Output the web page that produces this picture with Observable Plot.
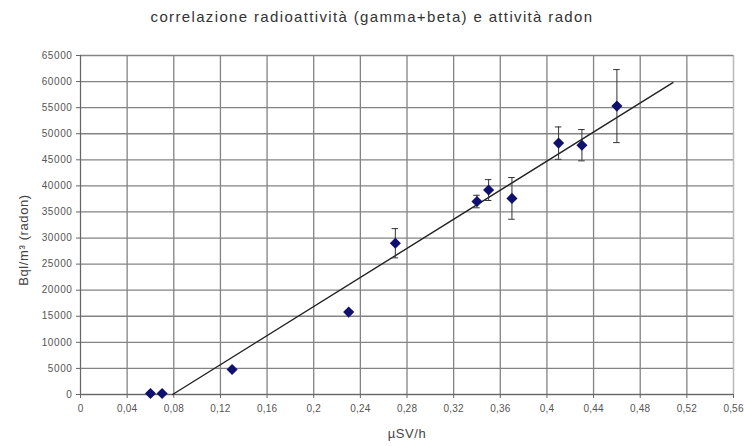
<!DOCTYPE html>
<html>
<head>
<meta charset="utf-8">
<script src="https://cdn.jsdelivr.net/npm/d3@7"></script>
<script src="https://cdn.jsdelivr.net/npm/@observablehq/plot@0.6"></script>
<style>
  html, body { margin: 0; padding: 0; background: #fff; }
  #wrap { width: 744px; font-family: "Liberation Sans", Arial, sans-serif; }
  #title { height: 40px; line-height: 34px; text-align: center; font-size: 15px; letter-spacing: 1.35px; color: #333; }
</style>
</head>
<body>
<div id="wrap">
  <div id="title">correlazione radioattività (gamma+beta) e attività radon</div>
  <div id="chart"></div>
</div>
<script>
// measured values (µSv/h vs Bq/m³)
const xVals = [0.06, 0.07, 0.13, 0.23, 0.27, 0.34, 0.35, 0.37, 0.41, 0.43, 0.46];
const yVals = [200, 200, 4800, 15800, 29000, 37000, 39200, 37600, 48200, 47800, 55300];
const yErr  = [null, null, null, null, 2800, 1200, 2000, 4000, 3100, 3000, 7000];

// trend line endpoints
const trendX = [0.079, 0.508];
const trendY = [0, 59800];

// tick values
const xTicks = [0, 0.04, 0.08, 0.12, 0.16, 0.2, 0.24, 0.28, 0.32, 0.36, 0.4, 0.44, 0.48, 0.52, 0.56];
const yTicks = [0, 5000, 10000, 15000, 20000, 25000, 30000, 35000, 40000, 45000, 50000, 55000, 60000, 65000];

const points = xVals.map((x, i) => ({x, y: yVals[i], e: yErr[i]}));
const bars = points.filter(d => d.e != null);
const trend = trendX.map((x, i) => ({x, y: trendY[i]}));
const capHalf = 0.0028;

const locale = d3.formatLocale({decimal: ",", thousands: "", grouping: [3], currency: ["", ""]});
const fmtX = locale.format("~g");

const chart = Plot.plot({
  width: 744,
  height: 406,
  marginTop: 15,
  marginBottom: 52,
  marginLeft: 80,
  marginRight: 11,
  style: {fontFamily: "Liberation Sans, Arial, sans-serif", fontSize: "10px", letterSpacing: "0.6px", color: "#555", background: "#fff"},
  x: {domain: [0, 0.56], ticks: xTicks},
  y: {domain: [0, 65000], ticks: yTicks},
  marks: [
    Plot.gridX(xTicks, {stroke: "#838383", strokeOpacity: 1, strokeWidth: 1.3}),
    Plot.gridY(yTicks, {stroke: "#838383", strokeOpacity: 1, strokeWidth: 1.3}),
    Plot.ruleX([0.56], {stroke: "#bbb"}),
    Plot.ruleX([0], {stroke: "#666"}),
    Plot.ruleY([0], {stroke: "#666"}),
    Plot.axisX({ticks: xTicks, tickFormat: fmtX, tickSize: 4, tickPadding: 6, stroke: "#666",
      label: "µSV/h", labelAnchor: "center", labelArrow: "none", labelOffset: 43, fontSize: 10}),
    Plot.axisY({ticks: yTicks, tickFormat: d => String(d), tickSize: 4, tickPadding: 4, stroke: "#666",
      label: "Bql/m³ (radon)", labelAnchor: "center", labelArrow: "none", labelOffset: 62, fontSize: 10}),
    Plot.line(trend, {x: "x", y: "y", stroke: "#222", strokeWidth: 1.4}),
    Plot.ruleX(bars, {x: "x", y1: d => d.y - d.e, y2: d => d.y + d.e, stroke: "#333", strokeWidth: 1}),
    Plot.ruleY(bars, {y: d => d.y + d.e, x1: d => d.x - capHalf, x2: d => d.x + capHalf, stroke: "#333", strokeWidth: 1}),
    Plot.ruleY(bars, {y: d => d.y - d.e, x1: d => d.x - capHalf, x2: d => d.x + capHalf, stroke: "#333", strokeWidth: 1}),
    Plot.dot(points, {x: "x", y: "y", symbol: "diamond2", r: 5, fill: "#10106e", stroke: "none"})
  ]
});
// x tick labels slightly tighter so the last one fits
chart.querySelectorAll("[aria-label='x-axis tick label'] text").forEach(t => {
  t.style.letterSpacing = "0.2px";
});
// axis titles larger than tick labels
chart.querySelectorAll("[aria-label='x-axis label'] text, [aria-label='y-axis label'] text").forEach(t => {
  t.style.fontSize = "13px"; t.style.letterSpacing = "0.6px"; t.setAttribute("fill", "#444");
});
const yl = chart.querySelector("[aria-label='y-axis label']");
if (yl) {
  const tr = yl.getAttribute("transform") || "";
  yl.setAttribute("transform", (tr + " translate(0,15)").trim());
}
document.getElementById("chart").appendChild(chart);
</script>
</body>
</html>
